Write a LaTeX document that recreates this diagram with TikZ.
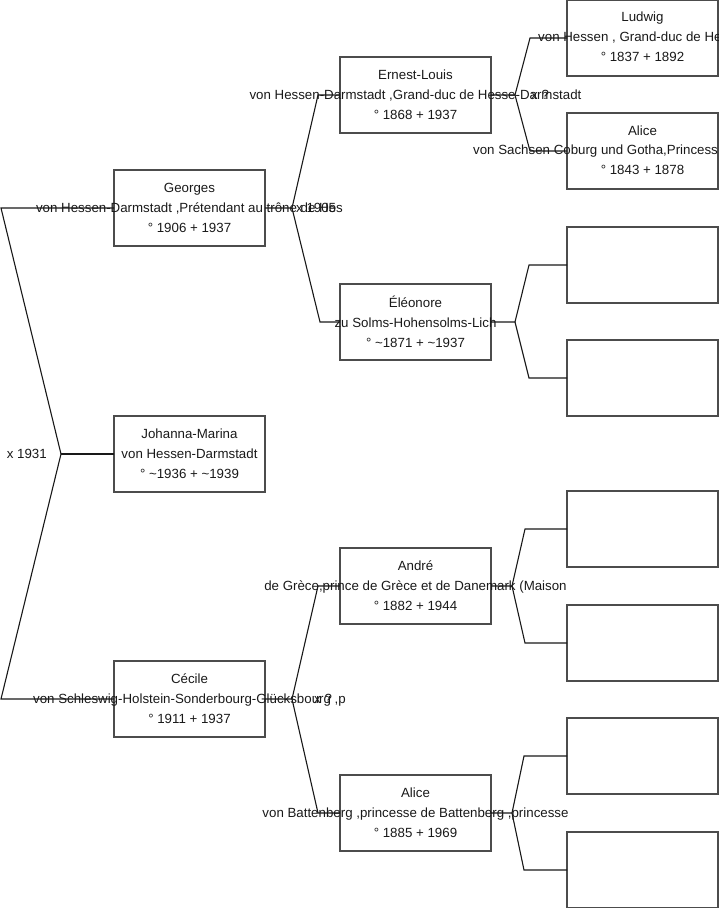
\documentclass[tikz,border=0pt]{standalone}
\usepackage{fontspec}
\setmainfont{Liberation Sans}
\newcommand\tild{\textasciitilde}
\tikzset{
  pbox/.style={draw=black!70, line width=1.1pt, minimum width=151pt, minimum height=76pt, inner sep=0pt, outer sep=0pt},
  ptext/.style={align=center, font=\fontsize{13.3}{20}\selectfont, inner sep=0pt, text=black!90},
  pline/.style={font=\fontsize{13.3}{16}\selectfont, inner sep=0pt, text=black!90},
  link/.style={draw=black!90, line width=1.1pt},
  mlabel/.style={font=\fontsize{13.3}{16}\selectfont, inner sep=0pt, text=black!90}
}
\begin{document}
\begin{tikzpicture}[x=1pt,y=-1pt]
\useasboundingbox (0,0) rectangle (719,908);
\begin{scope}
\clip (0,0) rectangle (719,908);
% boxes
\node[pbox] (father) at (189.5,208) {};
\node[pbox] (root)   at (189.5,454) {};
\node[pbox] (mother) at (189.5,699) {};
\node[pbox] (ff) at (415.5,95) {};
\node[pbox] (fm) at (415.5,322) {};
\node[pbox] (mf) at (415.5,586) {};
\node[pbox] (mm) at (415.5,813) {};
\node[pbox] (fff) at (642.5,38) {};
\node[pbox] (ffm) at (642.5,151) {};
\node[pbox] (fmf) at (642.5,265) {};
\node[pbox] (fmm) at (642.5,378) {};
\node[pbox] (mff) at (642.5,529) {};
\node[pbox] (mfm) at (642.5,643) {};
\node[pbox] (mmf) at (642.5,756) {};
\node[pbox] (mmm) at (642.5,870) {};
% bend points
\coordinate (v0) at (61,454);
\coordinate (a0) at (1,208);
\coordinate (b0) at (1,699);
\coordinate (vF) at (292,208);
\coordinate (aF) at (318,95);
\coordinate (bF) at (320,322);
\coordinate (vM) at (292,699);
\coordinate (aM) at (318,586);
\coordinate (bM) at (318,813);
\coordinate (vFF) at (515,95);
\coordinate (aFF) at (530,38);
\coordinate (bFF) at (530,151);
\coordinate (vFM) at (515,322);
\coordinate (aFM) at (529,265);
\coordinate (bFM) at (529,378);
\coordinate (vMF) at (512,586);
\coordinate (aMF) at (525,529);
\coordinate (bMF) at (525,643);
\coordinate (vMM) at (512,813);
\coordinate (aMM) at (524,756);
\coordinate (bMM) at (524,870);
% connectors
\draw[link] (root.west) -- (v0);
\draw[link] (v0) -- (a0) -- (father.west);
\draw[link] (v0) -- (b0) -- (mother.west);
\draw[link] (father.east) -- (vF) -- (aF) -- (ff.west);
\draw[link] (vF) -- (bF) -- (fm.west);
\draw[link] (mother.east) -- (vM) -- (aM) -- (mf.west);
\draw[link] (vM) -- (bM) -- (mm.west);
\draw[link] (ff.east) -- (vFF) -- (aFF) -- (fff.west);
\draw[link] (vFF) -- (bFF) -- (ffm.west);
\draw[link] (fm.east) -- (vFM) -- (aFM) -- (fmf.west);
\draw[link] (vFM) -- (bFM) -- (fmm.west);
\draw[link] (mf.east) -- (vMF) -- (aMF) -- (mff.west);
\draw[link] (vMF) -- (bMF) -- (mfm.west);
\draw[link] (mm.east) -- (vMM) -- (aMM) -- (mmf.west);
\draw[link] (vMM) -- (bMM) -- (mmm.west);
% texts
\node[ptext] (tfather) at (father.center) {Georges\\von Hessen-Darmstadt ,Prétendant au trône de Hes\\° 1906 + 1937};
\node[ptext] (troot) at (root.center) {Johanna-Marina\\von Hessen-Darmstadt\\° \tild1936 + \tild1939};
\node[ptext] (tmother) at (mother.center) {Cécile\\von Schleswig-Holstein-Sonderbourg-Glücksbourg ,p\\° 1911 + 1937};
\node[ptext] (tff) at (ff.center) {Ernest-Louis\\von Hessen-Darmstadt ,Grand-duc de Hesse-Darmstadt\\° 1868 + 1937};
\node[ptext] (tfm) at (fm.center) {Éléonore\\zu Solms-Hohensolms-Lich\\° \tild1871 + \tild1937};
\node[ptext] (tmf) at (mf.center) {André\\de Grèce,prince de Grèce et de Danemark (Maison\\° 1882 + 1944};
\node[ptext] (tmm) at (mm.center) {Alice\\von Battenberg ,princesse de Battenberg ,princesse\\° 1885 + 1969};
\node[pline] (tfff1) at ([yshift=20pt]fff.center) {Ludwig};
\node[pline, anchor=west] (tfff2) at (538,38) {von Hessen , Grand-duc de He};
\node[pline] (tfff3) at ([yshift=-19pt]fff.center) {° 1837 + 1892};
\node[pline] (tffm1) at ([yshift=20pt]ffm.center) {Alice};
\node[pline, anchor=west] (tffm2) at (473,151) {von Sachsen Coburg und Gotha,Princess};
\node[pline] (tffm3) at ([yshift=-19pt]ffm.center) {° 1843 + 1878};
% marriage labels
\node[mlabel, anchor=east] (m0) at (47,454) {x 1931};
\node[mlabel, anchor=west] (mF) at (296,208) {x 1905};
\node[mlabel, anchor=west] (mM) at (314,699) {x ?};
\node[mlabel, anchor=west] (mFF) at (531,95) {x ?};
\end{scope}
\end{tikzpicture}
\end{document}
